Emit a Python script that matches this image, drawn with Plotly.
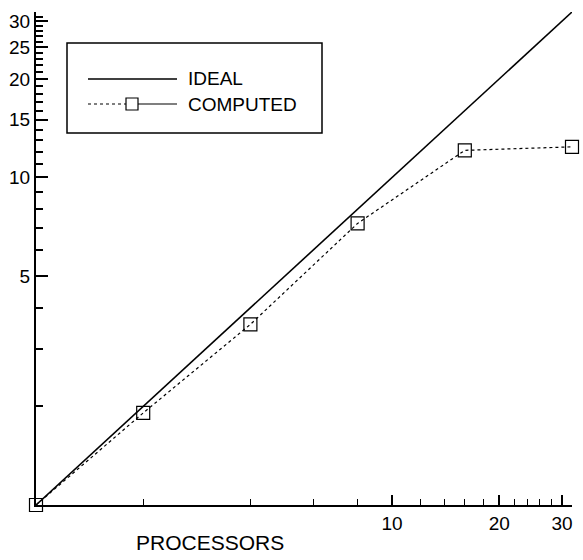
import plotly.graph_objects as go

# Data
processors = [1, 2, 4, 8, 16, 32]
ideal = [1, 2, 4, 8, 16, 32]
computed = [1.0, 1.91, 3.56, 7.24, 12.1, 12.4]

y_tick_vals = [5, 10, 15, 20, 25, 30]
y_minor_vals = [2, 3, 4, 6, 7, 8, 9] + [v for v in range(11, 32) if v not in (15, 20, 25, 30)]
x_tick_vals = [10, 20, 30]
x_minor_vals = [v for v in range(2, 33, 2) if v not in (10, 20, 30)]

FONT = "Liberation Sans, Arial, sans-serif"

# plot area in pixels (for legend placement)
L, R, T, B = 36, 572, 12, 505
W, H = 583, 560


def px(x):
    return (x - L) / (R - L)


def py(y):
    return (B - y) / (B - T)


fig = go.Figure()
fig.add_trace(go.Scatter(
    x=processors, y=ideal, mode="lines", name="IDEAL",
    line=dict(color="black", width=1.6), showlegend=False, cliponaxis=False))
fig.add_trace(go.Scatter(
    x=processors, y=computed, mode="lines+markers", name="COMPUTED",
    line=dict(color="black", width=1.2, dash="dot"),
    marker=dict(symbol="square-open", size=13, color="black", line=dict(width=1.2)),
    showlegend=False, cliponaxis=False))

# manual legend box
shapes = [
    dict(type="rect", xref="paper", yref="paper", x0=px(67), x1=px(322), y0=py(133), y1=py(43),
         line=dict(color="black", width=1.5)),
    dict(type="line", xref="paper", yref="paper", x0=px(88), x1=px(177), y0=py(79), y1=py(79),
         line=dict(color="black", width=1.5)),
    dict(type="line", xref="paper", yref="paper", x0=px(88), x1=px(126), y0=py(104), y1=py(104),
         line=dict(color="black", width=1.2, dash="dot")),
    dict(type="rect", xref="paper", yref="paper", x0=px(126), x1=px(138), y0=py(110), y1=py(98),
         line=dict(color="black", width=1.2)),
    dict(type="line", xref="paper", yref="paper", x0=px(138), x1=px(177), y0=py(104), y1=py(104),
         line=dict(color="black", width=1.2)),
]
annotations = [
    dict(text="IDEAL", xref="paper", yref="paper", x=px(186), y=py(79), xanchor="left", yanchor="middle",
         showarrow=False, font=dict(family=FONT, size=19, color="black")),
    dict(text="COMPUTED", xref="paper", yref="paper", x=px(186), y=py(104), xanchor="left", yanchor="middle",
         showarrow=False, font=dict(family=FONT, size=19, color="black")),
    dict(text="PROCESSORS", xref="paper", yref="paper", x=px(210), y=py(542), xanchor="center",
         yanchor="middle", showarrow=False, font=dict(family=FONT, size=21, color="black")),
]

fig.update_layout(
    width=W, height=H,
    margin=dict(l=L, r=W - R, t=T, b=H - B, pad=0, autoexpand=False),
    paper_bgcolor="white", plot_bgcolor="white",
    font=dict(family=FONT, size=19, color="black"),
    shapes=shapes, annotations=annotations,
    xaxis=dict(type="log", range=[0, 1.50515], showgrid=False, zeroline=False, automargin=False,
               showline=True, linecolor="black", linewidth=2,
               ticks="inside", ticklen=10, tickwidth=1.5, tickcolor="black",
               tickvals=x_tick_vals, ticktext=[str(v) for v in x_tick_vals],
               tickfont=dict(size=19),
               minor=dict(tickvals=x_minor_vals, ticks="inside", ticklen=6, tickwidth=1.2,
                          tickcolor="black", showgrid=False)),
    yaxis=dict(type="log", range=[0, 1.50515], showgrid=False, zeroline=False, automargin=False,
               showline=True, linecolor="black", linewidth=2,
               ticks="inside", ticklen=12, tickwidth=1.8, tickcolor="black",
               tickvals=y_tick_vals, ticktext=[str(v) for v in y_tick_vals],
               tickfont=dict(size=19),
               minor=dict(tickvals=y_minor_vals, ticks="inside", ticklen=7, tickwidth=1.5,
                          tickcolor="black", showgrid=False)),
)

fig.write_html("out.html")
